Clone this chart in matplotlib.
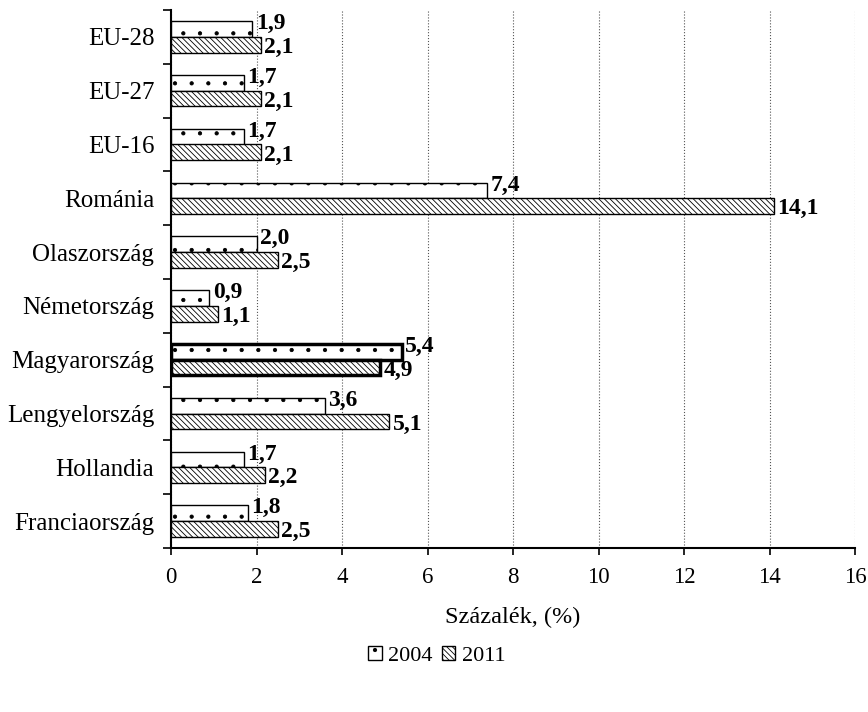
import matplotlib.pyplot as plt
import numpy as np
from matplotlib.patches import Patch

plt.rcParams['font.family'] = ['Liberation Serif', 'DejaVu Serif']
plt.rcParams['hatch.linewidth'] = 0.6

# categories listed bottom to top
countries = ["Franciaország", "Hollandia", "Lengyelország", "Magyarország", "Németország",
             "Olaszország", "Románia", "EU-16", "EU-27", "EU-28"]
val_2004 = [1.8, 1.7, 3.6, 5.4, 0.9, 2.0, 7.4, 1.7, 1.7, 1.9]
val_2011 = [2.5, 2.2, 5.1, 4.9, 1.1, 2.5, 14.1, 2.1, 2.1, 2.1]
highlight = "Magyarország"

dots = "."
stripes = "\\" * 6


def fmt(v):
    return ("%.1f" % v).replace(".", ",")


fig = plt.figure(figsize=(8.68, 7.12), dpi=100)
ax = fig.add_axes([171 / 868, 1 - 548 / 712, (855 - 171) / 868, (548 - 10) / 712])

y = np.arange(len(countries))
h = 0.29
for i, c in enumerate(countries):
    lw = 2.5 if c == highlight else 1.0
    ax.barh(y[i] + h / 2, val_2004[i], height=h, color="white", edgecolor="black",
            hatch=dots, linewidth=lw, zorder=3)
    ax.barh(y[i] - h / 2, val_2011[i], height=h, color="white", edgecolor="black",
            hatch=stripes, linewidth=lw, zorder=3)
    ax.text(val_2004[i] + 0.08, y[i] + h / 2 + 0.1, fmt(val_2004[i]), fontsize=17,
            fontweight="bold", va="center", ha="left", zorder=4)
    ax.text(val_2011[i] + 0.08, y[i] - h / 2 - 0.05, fmt(val_2011[i]), fontsize=17,
            fontweight="bold", va="center", ha="left", zorder=4)

ax.set_xlim(0, 16)
ax.set_ylim(-0.5, len(countries) - 0.5)
ax.set_xticks(np.arange(0, 17, 2))
ax.tick_params(axis="x", labelsize=16.5, direction="out", length=5, width=1.2, pad=9)
ax.set_yticks(y)
ax.set_yticklabels(countries, fontsize=18)
ax.tick_params(axis="y", which="major", length=0, pad=12)
ax.set_yticks(np.arange(-0.5, len(countries), 1), minor=True)
ax.tick_params(axis="y", which="minor", length=6, width=1.2, direction="out")

ax.grid(axis="x", color="#555555", linestyle=":", linewidth=0.8, zorder=0)
ax.set_axisbelow(True)
for s in ["top", "right"]:
    ax.spines[s].set_visible(False)
for s in ["left", "bottom"]:
    ax.spines[s].set_linewidth(1.5)

ax.set_xlabel("Százalék, (%)", fontsize=17.5, labelpad=13)

handles = [Patch(facecolor="white", edgecolor="black", hatch=dots, label="2004"),
           Patch(facecolor="white", edgecolor="black", hatch=stripes, label="2011")]
fig.legend(handles=handles, loc="center", bbox_to_anchor=(437 / 868, 1 - 656 / 712), ncol=2,
           frameon=False, fontsize=16, handlelength=0.6, handleheight=0.6,
           handletextpad=0.3, columnspacing=0.4)

fig.savefig("out.png", dpi=100)
